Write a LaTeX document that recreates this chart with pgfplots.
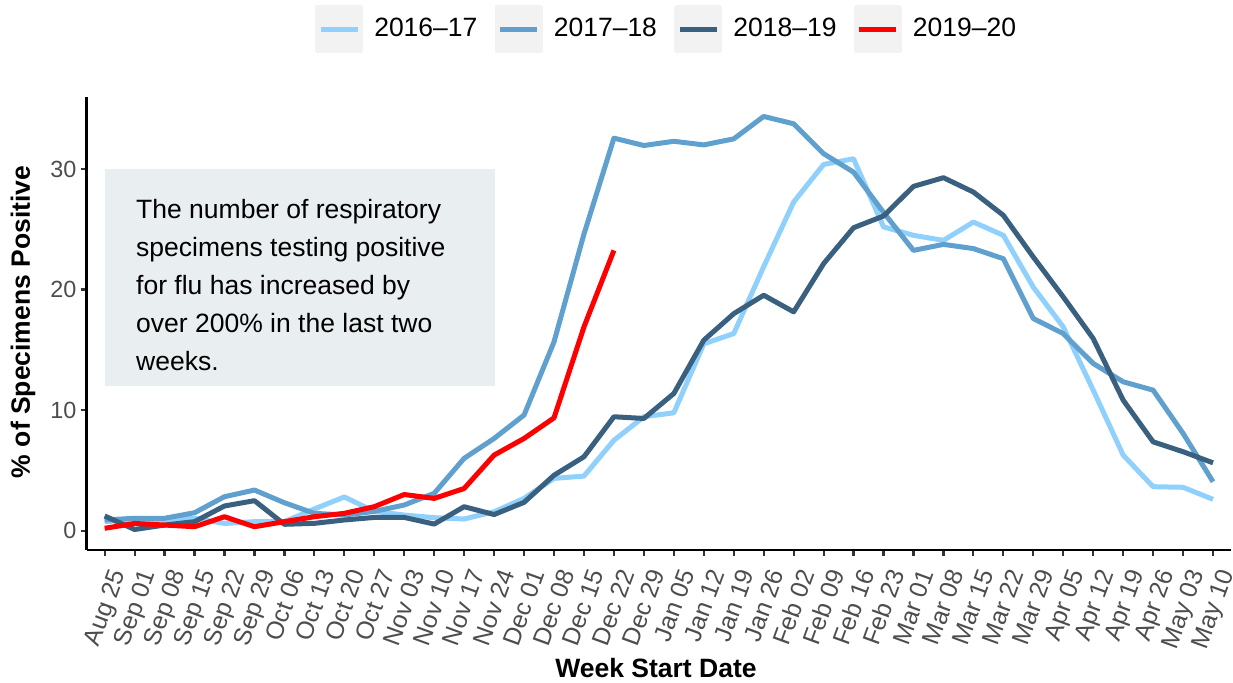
\documentclass[border=0pt]{standalone}
\usepackage{pgfplots}
\pgfplotsset{compat=1.18}
\usepackage{fontspec}
\setmainfont{Liberation Sans}
\definecolor{c1}{HTML}{90D0FC}
\definecolor{c2}{HTML}{5FA0CE}
\definecolor{c3}{HTML}{3A6080}
\definecolor{c4}{HTML}{FF0000}
\definecolor{boxbg}{HTML}{E9EEF1}
\definecolor{tickgray}{HTML}{4D4D4D}
\begin{document}
\begin{tikzpicture}
\path[use as bounding box] (0,0) rectangle (616.5pt,341.5pt);
\begin{axis}[
  at={(43.35pt,66.5pt)}, anchor=south west,
  scale only axis, width=572.15pt, height=226.65pt,
  xmin=-0.6, xmax=37.6, ymin=-1.6, ymax=36,
  axis lines=left, axis line style={-, line width=1.2pt, black},
  xtick pos=bottom, ytick pos=left,
  tick align=outside, major tick length=3pt,
  tick style={line width=1.1pt, black!80},
  xtick={0,...,37},
  xticklabels={Aug 25,Sep 01,Sep 08,Sep 15,Sep 22,Sep 29,Oct 06,Oct 13,Oct 20,Oct 27,Nov 03,Nov 10,Nov 17,Nov 24,Dec 01,Dec 08,Dec 15,Dec 22,Dec 29,Jan 05,Jan 12,Jan 19,Jan 26,Feb 02,Feb 09,Feb 16,Feb 23,Mar 01,Mar 08,Mar 15,Mar 22,Mar 29,Apr 05,Apr 12,Apr 19,Apr 26,May 03,May 10},
  ytick={0,10,20,30},
  /pgf/number format/assume math mode=true,
  ticklabel style={font=\fontsize{11.7}{12}\selectfont, text=tickgray},
  xticklabel style={font=\fontsize{12.4}{13}\selectfont, rotate=70, anchor=north east, inner sep=0pt, text depth=0pt, yshift=-4pt, xshift=-4.5pt},
  yticklabel style={anchor=east, inner sep=1pt, xshift=-1pt},
  xlabel={Week Start Date},
  xlabel style={font=\bfseries\fontsize{13.25}{14}\selectfont, at={(axis description cs:0.4975,-0.26)}, anchor=center},
  ylabel={\% of Specimens Positive},
  ylabel style={font=\bfseries\fontsize{13.25}{14}\selectfont, at={(axis description cs:-0.0557,0.503)}, anchor=center},
  legend columns=4,
  legend style={at={(axis description cs:0.506,1.149)}, anchor=center, draw=none, fill=none,
    font=\fontsize{13.25}{14}\selectfont, inner sep=0pt,
    /tikz/every odd column/.append style={column sep=5.5pt},
    /tikz/every even column/.append style={column sep=8.7pt},
    nodes={inner sep=0pt}},
  legend image code/.code={\fill[black!5] (0pt,-10.75pt) rectangle (21.5pt,10.75pt); \draw[#1, line width=2.5pt] (1.5pt,0pt) -- (20pt,0pt);},
  every axis plot/.append style={line width=2.5pt, line join=round, no markers},
]
\fill[boxbg] (axis cs:0,12) rectangle (axis cs:13.04,30.02);
\node[anchor=base west, inner sep=0pt, font=\fontsize{13.25}{14}\selectfont] at (axis cs:1.04,25.91) {The number of respiratory};
\node[anchor=base west, inner sep=0pt, font=\fontsize{13.25}{14}\selectfont] at (axis cs:1.04,22.76) {specimens testing positive};
\node[anchor=base west, inner sep=0pt, font=\fontsize{13.25}{14}\selectfont] at (axis cs:1.04,19.61) {for flu has increased by};
\node[anchor=base west, inner sep=0pt, font=\fontsize{13.25}{14}\selectfont] at (axis cs:1.04,16.46) {over 200\% in the last two};
\node[anchor=base west, inner sep=0pt, font=\fontsize{13.25}{14}\selectfont] at (axis cs:1.04,13.31) {weeks.};

\addplot[c1] coordinates {(0,0.75)(1,0.89)(2,0.9)(3,1.03)(4,0.6)(5,0.75)(6,0.75)(7,1.8)(8,2.8)(9,1.6)(10,1.3)(11,1.08)(12,0.97)(13,1.57)(14,2.68)(15,4.34)(16,4.53)(17,7.5)(18,9.45)(19,9.78)(20,15.5)(21,16.35)(22,21.9)(23,27.26)(24,30.38)(25,30.85)(26,25.2)(27,24.5)(28,24.08)(29,25.6)(30,24.5)(31,20.2)(32,16.9)(33,11.66)(34,6.27)(35,3.65)(36,3.6)(37,2.6)};
\addlegendentry{2016--17}
\addplot[c2] coordinates {(0,0.89)(1,1.03)(2,1.03)(3,1.49)(4,2.82)(5,3.37)(6,2.32)(7,1.44)(8,1.3)(9,1.6)(10,2.13)(11,3.1)(12,6.0)(13,7.65)(14,9.59)(15,15.66)(16,24.6)(17,32.56)(18,31.95)(19,32.3)(20,32.0)(21,32.5)(22,34.36)(23,33.75)(24,31.27)(25,29.74)(26,26.4)(27,23.25)(28,23.75)(29,23.4)(30,22.56)(31,17.6)(32,16.35)(33,13.87)(34,12.35)(35,11.66)(36,8.07)(37,4.06)};
\addlegendentry{2017--18}
\addplot[c3] coordinates {(0,1.22)(1,0.1)(2,0.47)(3,0.75)(4,2.05)(5,2.49)(6,0.53)(7,0.61)(8,0.89)(9,1.1)(10,1.1)(11,0.55)(12,1.99)(13,1.34)(14,2.35)(15,4.6)(16,6.13)(17,9.45)(18,9.31)(19,11.38)(20,15.8)(21,18.0)(22,19.53)(23,18.15)(24,22.15)(25,25.13)(26,26.1)(27,28.56)(28,29.28)(29,28.09)(30,26.16)(31,22.7)(32,19.39)(33,15.94)(34,10.83)(35,7.37)(36,6.55)(37,5.63)};
\addlegendentry{2018--19}
\addplot[c4] coordinates {(0,0.2)(1,0.6)(2,0.47)(3,0.33)(4,1.16)(5,0.33)(6,0.75)(7,1.16)(8,1.44)(9,1.99)(10,3.0)(11,2.68)(12,3.5)(13,6.27)(14,7.65)(15,9.36)(16,16.9)(17,23.25)};
\addlegendentry{2019--20}
\end{axis}
\end{tikzpicture}
\end{document}
